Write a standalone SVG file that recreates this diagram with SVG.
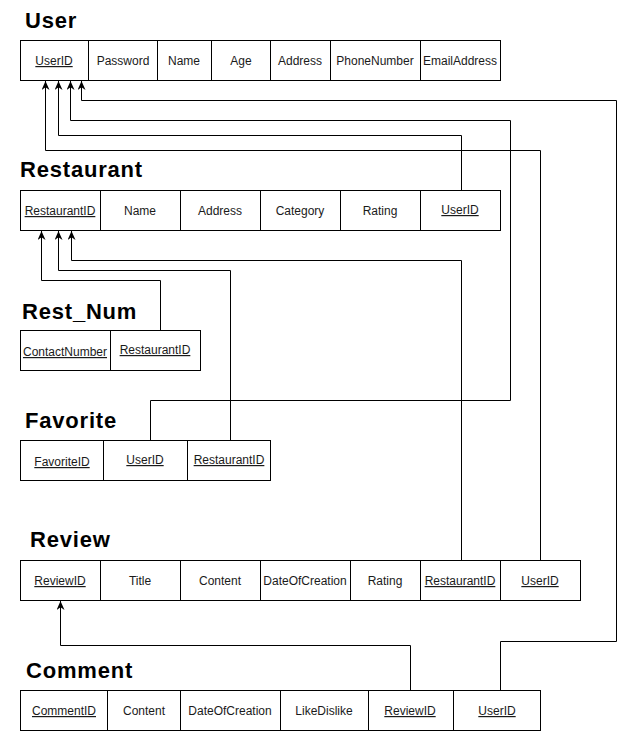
<svg xmlns="http://www.w3.org/2000/svg" width="622" height="731" viewBox="0 0 622 731">
<defs>
<style>
.title{font-family:"Liberation Sans",Arial,sans-serif;font-weight:bold;font-size:22px;letter-spacing:0.8px;fill:#000}
.cell{fill:#fff;stroke:#000;stroke-width:1}
.t{font-family:"Liberation Sans",Arial,sans-serif;font-size:12px;fill:#1a1a1a;text-anchor:middle}
.k{text-decoration:underline}
.conn{fill:none;stroke:#000;stroke-width:1}
</style>
<marker id="arr" viewBox="0 0 10 10" refX="10" refY="5" markerWidth="9" markerHeight="8" preserveAspectRatio="none" orient="auto" markerUnits="userSpaceOnUse">
<path d="M0,0 L10,5 L0,10 L3,5 z" fill="#000"/>
</marker>
</defs>
<rect width="622" height="731" fill="#fff"/>

<g id="User">
<text class="title" x="25" y="28">User</text>
<rect class="cell" x="20.5" y="40.5" width="68" height="40"/>
<rect class="cell" x="88.5" y="40.5" width="69" height="40"/>
<rect class="cell" x="157.5" y="40.5" width="54" height="40"/>
<rect class="cell" x="211.5" y="40.5" width="59" height="40"/>
<rect class="cell" x="270.5" y="40.5" width="60" height="40"/>
<rect class="cell" x="330.5" y="40.5" width="90" height="40"/>
<rect class="cell" x="420.5" y="40.5" width="80" height="40"/>
<text class="t k" x="54" y="65">UserID</text>
<text class="t" x="123" y="65">Password</text>
<text class="t" x="184" y="65">Name</text>
<text class="t" x="241" y="65">Age</text>
<text class="t" x="300" y="65">Address</text>
<text class="t" x="375" y="65">PhoneNumber</text>
<text class="t" x="460" y="65">EmailAddress</text>
</g>

<g id="Restaurant">
<text class="title" x="20" y="177">Restaurant</text>
<rect class="cell" x="20.5" y="190.5" width="80" height="40"/>
<rect class="cell" x="100.5" y="190.5" width="80" height="40"/>
<rect class="cell" x="180.5" y="190.5" width="80" height="40"/>
<rect class="cell" x="260.5" y="190.5" width="80" height="40"/>
<rect class="cell" x="340.5" y="190.5" width="80" height="40"/>
<rect class="cell" x="420.5" y="190.5" width="80" height="40"/>
<text class="t k" x="60" y="215">RestaurantID</text>
<text class="t" x="140" y="215">Name</text>
<text class="t" x="220" y="215">Address</text>
<text class="t" x="300" y="215">Category</text>
<text class="t" x="380" y="215">Rating</text>
<text class="t k" x="460" y="214">UserID</text>
</g>

<g id="Rest_Num">
<text class="title" x="22" y="319">Rest_Num</text>
<rect class="cell" x="20.5" y="330.5" width="90" height="40"/>
<rect class="cell" x="110.5" y="330.5" width="90" height="40"/>
<text class="t k" x="65" y="356">ContactNumber</text>
<text class="t k" x="155" y="354">RestaurantID</text>
</g>

<g id="Favorite">
<text class="title" x="25" y="428">Favorite</text>
<rect class="cell" x="20.5" y="440.5" width="83" height="40"/>
<rect class="cell" x="103.5" y="440.5" width="84" height="40"/>
<rect class="cell" x="187.5" y="440.5" width="83" height="40"/>
<text class="t k" x="62" y="466">FavoriteID</text>
<text class="t k" x="145" y="464">UserID</text>
<text class="t k" x="229" y="464">RestaurantID</text>
</g>

<g id="Review">
<text class="title" x="30" y="547">Review</text>
<rect class="cell" x="20.5" y="560.5" width="80" height="40"/>
<rect class="cell" x="100.5" y="560.5" width="80" height="40"/>
<rect class="cell" x="180.5" y="560.5" width="80" height="40"/>
<rect class="cell" x="260.5" y="560.5" width="90" height="40"/>
<rect class="cell" x="350.5" y="560.5" width="70" height="40"/>
<rect class="cell" x="420.5" y="560.5" width="80" height="40"/>
<rect class="cell" x="500.5" y="560.5" width="80" height="40"/>
<text class="t k" x="60" y="585">ReviewID</text>
<text class="t" x="140" y="585">Title</text>
<text class="t" x="220" y="585">Content</text>
<text class="t" x="305" y="585">DateOfCreation</text>
<text class="t" x="385" y="585">Rating</text>
<text class="t k" x="460" y="585">RestaurantID</text>
<text class="t k" x="540" y="585">UserID</text>
</g>

<g id="Comment">
<text class="title" x="26" y="678">Comment</text>
<rect class="cell" x="20.5" y="690.5" width="87" height="40"/>
<rect class="cell" x="107.5" y="690.5" width="73" height="40"/>
<rect class="cell" x="180.5" y="690.5" width="100" height="40"/>
<rect class="cell" x="280.5" y="690.5" width="88" height="40"/>
<rect class="cell" x="368.5" y="690.5" width="85" height="40"/>
<rect class="cell" x="453.5" y="690.5" width="87" height="40"/>
<text class="t k" x="64" y="715">CommentID</text>
<text class="t" x="144" y="715">Content</text>
<text class="t" x="230" y="715">DateOfCreation</text>
<text class="t" x="324" y="715">LikeDislike</text>
<text class="t k" x="410" y="715">ReviewID</text>
<text class="t k" x="497" y="715">UserID</text>
</g>

<g id="connectors">
<path class="conn" marker-end="url(#arr)" d="M500.5,690 V641.5 H616.5 V100.5 H81.5 V81"/>
<path class="conn" marker-end="url(#arr)" d="M150.5,440 V400.5 H510.5 V120.5 H70.5 V81"/>
<path class="conn" marker-end="url(#arr)" d="M461.5,190 V135.5 H58.5 V81"/>
<path class="conn" marker-end="url(#arr)" d="M540.5,560 V150.5 H45.5 V81"/>
<path class="conn" marker-end="url(#arr)" d="M461.5,560 V260.5 H71.5 V231"/>
<path class="conn" marker-end="url(#arr)" d="M230.5,440 V270.5 H58.5 V231"/>
<path class="conn" marker-end="url(#arr)" d="M160.5,330 V280.5 H41.5 V231"/>
<path class="conn" marker-end="url(#arr)" d="M410.5,690 V645.5 H60.5 V601"/>
</g>
</svg>
